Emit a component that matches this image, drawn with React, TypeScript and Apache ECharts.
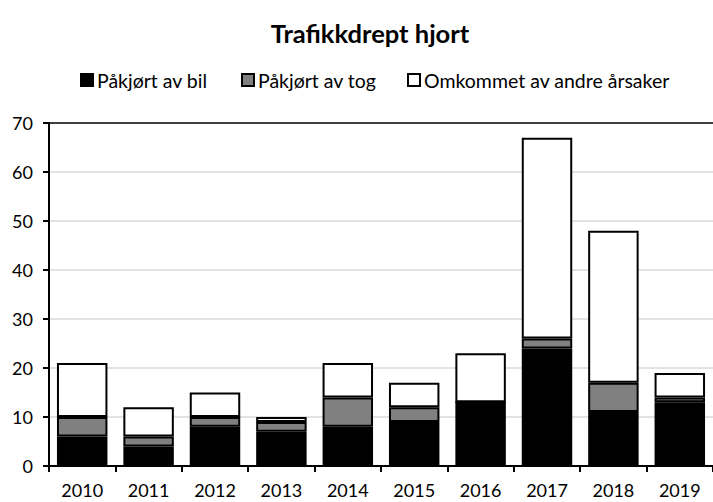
import React, { useEffect, useRef } from "react";
import * as echarts from "echarts";

const years = ["2010", "2011", "2012", "2013", "2014", "2015", "2016", "2017", "2018", "2019"];
const bil = [6, 4, 8, 7, 8, 9, 13, 24, 11, 13];
const tog = [4, 2, 2, 2, 6, 3, 0, 2, 6, 1];
const andre = [11, 6, 5, 1, 7, 5, 10, 41, 31, 5];
const seriesNames = ["Påkjørt av bil", "Påkjørt av tog", "Omkommet av andre årsaker"];
const seriesColors = ["#000000", "#808080", "#ffffff"];
const legendLefts = [75, 236, 402];

export default function App() {
  const ref = useRef<HTMLDivElement>(null);
  useEffect(() => {
    const chart = echarts.init(ref.current!, null, { renderer: "svg" });
    const font = "Lato, 'Open Sans', sans-serif";
    const data = [bil, tog, andre];
    chart.setOption({
      animation: false,
      textStyle: { fontFamily: font },
      title: {
        text: "Trafikkdrept hjort",
        left: 365,
        textAlign: "center",
        top: 15,
        textStyle: { fontFamily: font, fontSize: 25.5, fontWeight: "bold", color: "#000" },
      },
      legend: seriesNames.map((n, i) => ({
        top: 65,
        left: legendLefts[i],
        itemWidth: 12,
        itemHeight: 12,
        itemGap: 5,
        textStyle: { fontFamily: font, fontSize: 19.5, color: "#000", padding: [0, 0, 0, -1] },
        data: [
          {
            name: n,
            icon: "rect",
            itemStyle: { color: seriesColors[i], borderColor: "#000", borderWidth: 2 },
          },
        ],
      })),
      grid: { left: 49, right: -6, top: 123, bottom: 36, containLabel: false },
      xAxis: {
        type: "category",
        data: years,
        axisLine: { lineStyle: { color: "#000", width: 2 } },
        axisTick: { show: true, length: 6, lineStyle: { color: "#000", width: 2 } },
        axisLabel: { fontFamily: font, fontSize: 18, lineHeight: 18, color: "#000", margin: 15 },
      },
      yAxis: {
        type: "value",
        min: 0,
        max: 70,
        interval: 10,
        axisLine: { show: true, lineStyle: { color: "#000", width: 2 } },
        axisTick: { show: true, length: 6, lineStyle: { color: "#000", width: 2 } },
        axisLabel: { fontFamily: font, fontSize: 18, color: "#000", margin: 16 },
        splitLine: {
          show: true,
          lineStyle: {
            color: ["#d9d9d9", "#d9d9d9", "#d9d9d9", "#d9d9d9", "#d9d9d9", "#d9d9d9", "#d9d9d9", "#000000"],
            width: 1.5,
          },
        },
      },
      series: seriesNames.map((n, i) => ({
        name: n,
        type: "bar",
        stack: "total",
        data: data[i],
        barCategoryGap: "24%",
        itemStyle: { color: seriesColors[i], borderColor: "#000", borderWidth: 2 },
      })),
    });
    return () => chart.dispose();
  }, []);
  return <div ref={ref} style={{ width: 713, height: 502, position: "absolute", left: 0, top: 0 }} />;
}
